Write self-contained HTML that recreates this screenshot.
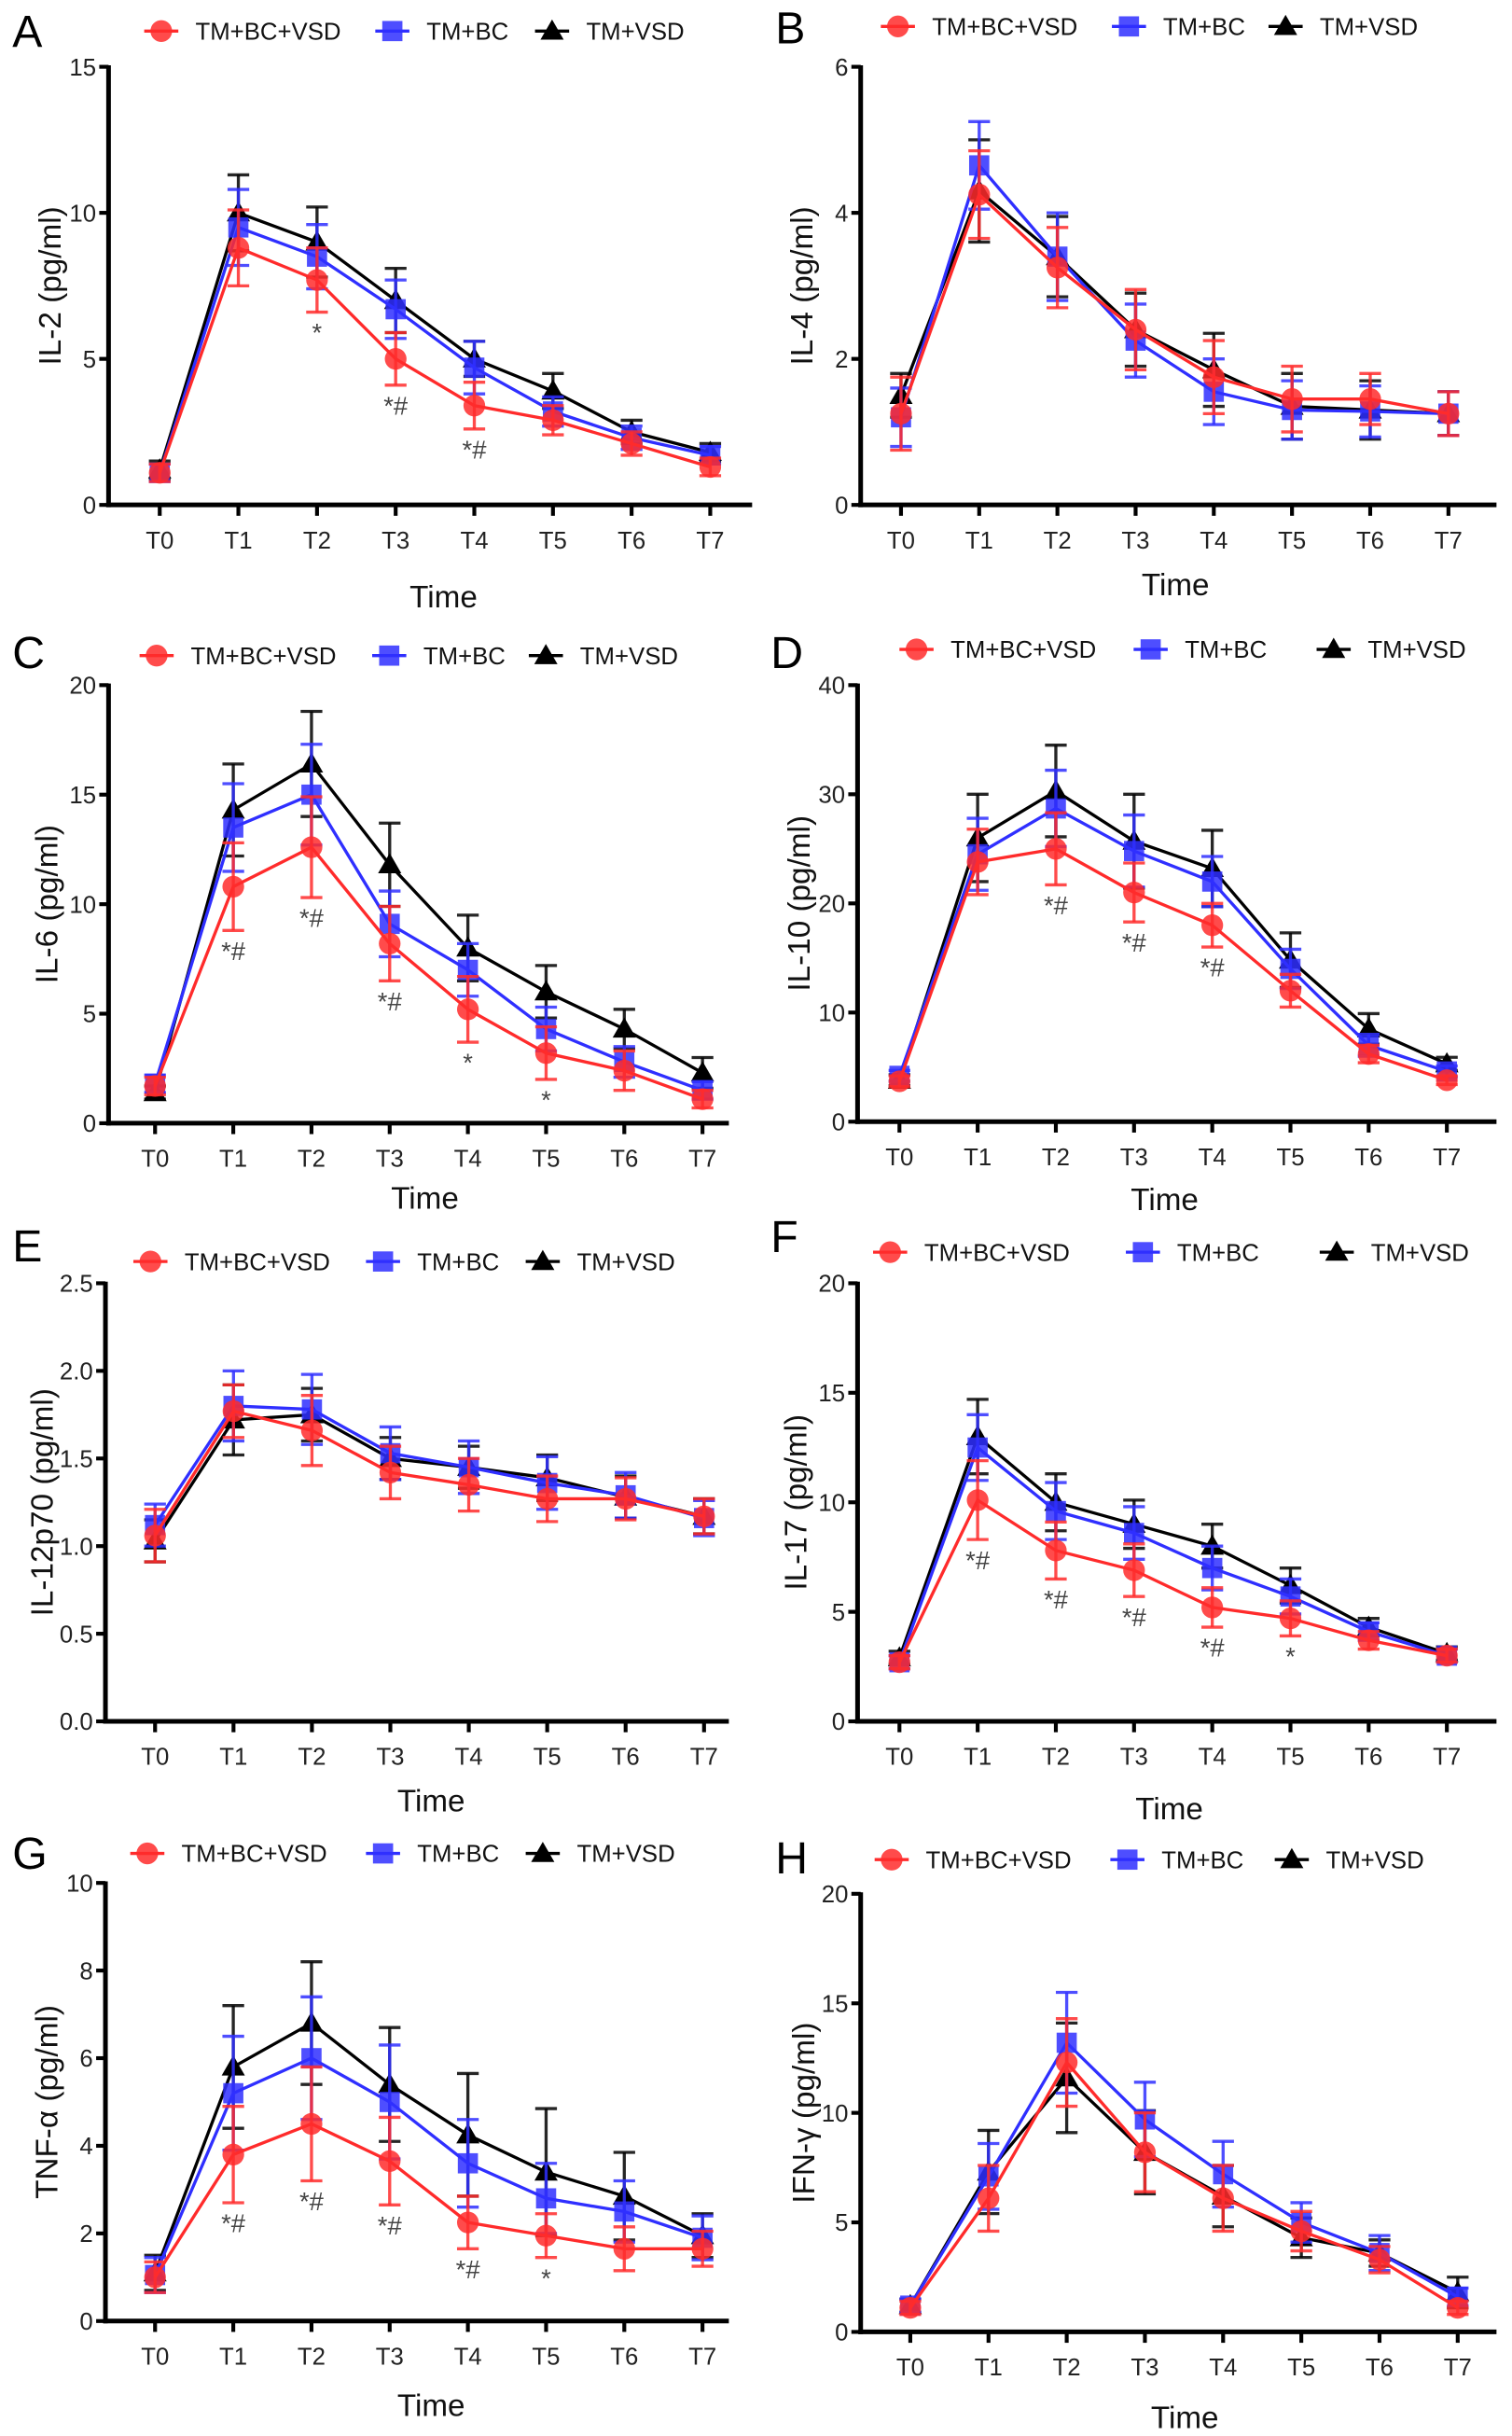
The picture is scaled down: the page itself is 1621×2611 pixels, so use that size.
<!DOCTYPE html>
<html><head><meta charset="utf-8">
<style>
html,body{margin:0;padding:0;background:#fff;}
svg{display:block;}
text{font-family:"Liberation Sans",Arial,sans-serif;}
</style></head>
<body>
<svg id="fig" width="1621" height="2611" viewBox="0 0 975 1568" preserveAspectRatio="none" xmlns="http://www.w3.org/2000/svg"></svg>
<script>
const categories = ["T0","T1","T2","T3","T4","T5","T6","T7"];
const seriesNames = ["TM+BC+VSD","TM+BC","TM+VSD"];

const aRed=[1.1,8.8,7.7,5.0,3.4,2.9,2.1,1.3], aRedE=[0.3,1.3,1.1,0.9,0.8,0.5,0.4,0.3];
const aBlue=[1.1,9.5,8.5,6.7,4.7,3.2,2.3,1.7], aBlueE=[0.3,1.3,1.1,1.0,0.9,0.5,0.4,0.3];
const aBlack=[1.2,10.0,9.0,7.0,5.0,3.9,2.5,1.8], aBlackE=[0.3,1.3,1.2,1.1,0.6,0.6,0.4,0.3];
const aTicks=[0,5,10,15], aMarks=["","","*","*#","*#","","",""];

const bRed=[1.25,4.25,3.25,2.4,1.75,1.45,1.45,1.25], bRedE=[0.5,0.6,0.55,0.55,0.5,0.45,0.35,0.3];
const bBlue=[1.2,4.65,3.4,2.25,1.55,1.3,1.28,1.25], bBlueE=[0.4,0.6,0.6,0.5,0.45,0.4,0.35,0.3];
const bBlack=[1.5,4.3,3.4,2.4,1.85,1.35,1.3,1.25], bBlackE=[0.3,0.7,0.55,0.5,0.5,0.45,0.4,0.3];
const bTicks=[0,2,4,6], bMarks=["","","","","","","",""];

const cRed=[1.7,10.8,12.6,8.2,5.2,3.2,2.4,1.1], cRedE=[0.4,2,2.3,1.7,1.5,1.2,0.9,0.4];
const cBlue=[1.8,13.5,15.0,9.1,7.0,4.3,2.8,1.5], cBlueE=[0.4,2,2.3,1.5,1.2,1,0.7,0.4];
const cBlack=[1.4,14.3,16.4,11.8,8.0,6.0,4.3,2.3], cBlackE=[0.3,2.1,2.4,1.9,1.5,1.2,0.9,0.7];
const cTicks=[0,5,10,15,20], cMarks=["","*#","*#","*#","*","*","",""];

const dRed=[3.7,23.8,25.0,21.0,18.0,12.0,6.2,3.8], dRedE=[0.5,3,3.3,2.7,2,1.5,0.8,0.4];
const dBlue=[4.2,24.5,28.7,24.8,22.0,14.0,7.0,4.6], dBlueE=[0.5,3.3,3.5,3.3,2.3,1.8,1,0.5];
const dBlack=[3.8,26.0,30.3,25.7,23.2,14.8,8.5,5.3], dBlackE=[0.5,4,4.2,4.3,3.5,2.5,1.4,0.6];
const dTicks=[0,10,20,30,40], dMarks=["","","*#","*#","*#","","",""];

const eRed=[1.06,1.77,1.66,1.42,1.35,1.27,1.27,1.17], eRedE=[0.15,0.15,0.2,0.15,0.15,0.13,0.12,0.1];
const eBlue=[1.12,1.80,1.78,1.53,1.45,1.36,1.29,1.16], eBlueE=[0.12,0.2,0.2,0.15,0.15,0.15,0.13,0.1];
const eBlack=[1.03,1.72,1.75,1.50,1.45,1.39,1.28,1.17], eBlackE=[0.12,0.2,0.15,0.12,0.12,0.13,0.12,0.1];
const eTicks=[0,0.5,1.0,1.5,2.0,2.5], eMarks=["","","","","","","",""];

const fRed=[2.7,10.1,7.8,6.9,5.2,4.7,3.7,3.0], fRedE=[0.3,1.8,1.3,1.2,0.9,0.8,0.4,0.3];
const fBlue=[2.7,12.5,9.6,8.6,7.0,5.7,4.1,3.0], fBlueE=[0.3,1.5,1.3,1.2,1.0,0.8,0.4,0.3];
const fBlack=[2.9,13.0,10.0,9.0,8.0,6.2,4.3,3.1], fBlackE=[0.3,1.7,1.3,1.1,1.0,0.8,0.4,0.3];
const fTicks=[0,5,10,15,20], fMarks=["","*#","*#","*#","*#","*","",""];

const gRed=[1.0,3.8,4.5,3.65,2.25,1.95,1.65,1.65], gRedE=[0.35,1.1,1.3,1.0,0.6,0.5,0.5,0.4];
const gBlue=[1.05,5.2,6.0,5.0,3.6,2.8,2.5,1.9], gBlueE=[0.4,1.3,1.4,1.3,1.0,0.8,0.7,0.5];
const gBlack=[1.1,5.8,6.8,5.4,4.25,3.4,2.85,1.95], gBlackE=[0.4,1.4,1.4,1.3,1.4,1.45,1.0,0.5];
const gTicks=[0,2,4,6,8,10], gMarks=["","*#","*#","*#","*#","*","",""];

const hRed=[1.1,6.1,12.3,8.2,6.1,4.6,3.3,1.1], hRedE=[0.3,1.5,2,1.8,1.5,0.9,0.6,0.3];
const hBlue=[1.2,7.1,13.2,9.7,7.2,5.0,3.6,1.6], hBlueE=[0.3,1.5,2.3,1.7,1.5,0.9,0.8,0.4];
const hBlack=[1.2,7.3,11.6,8.2,6.2,4.3,3.6,1.8], hBlackE=[0.3,1.9,2.5,1.9,1.4,0.9,0.6,0.7];
const hTicks=[0,5,10,15,20], hMarks=["","","","","","","",""];

const NS="http://www.w3.org/2000/svg";
const svg=document.getElementById('fig');
function mk(tag,attrs,parent){const e=document.createElementNS(NS,tag);for(const k in attrs)e.setAttribute(k,attrs[k]);(parent||svg).appendChild(e);return e;}

const panels=[
 {id:"a",letter:"A",lx:8,ly:30,ax:70,top:43,bot:325,xend:485,t0:103,t7:458,ticks:aTicks,dec:0,ylab:"IL-2 (pg/ml)",ylx:32,tx:286,ty:391,legY:20,leg:[104,253,356],serif:false,red:aRed,redE:aRedE,blue:aBlue,blueE:aBlueE,black:aBlack,blackE:aBlackE,marks:aMarks},
 {id:"b",letter:"B",lx:500,ly:28,ax:555,top:43,bot:325,xend:965,t0:581,t7:934,ticks:bTicks,dec:0,ylab:"IL-4 (pg/ml)",ylx:517,tx:758,ty:383,legY:17,leg:[579,728,829],serif:true,red:bRed,redE:bRedE,blue:bBlue,blueE:bBlueE,black:bBlack,blackE:bBlackE,marks:bMarks},
 {id:"c",letter:"C",lx:8,ly:430,ax:70,top:441,bot:723,xend:470,t0:100,t7:453,ticks:cTicks,dec:0,ylab:"IL-6 (pg/ml)",ylx:30,tx:274,ty:778,legY:422,leg:[101,251,352],serif:false,red:cRed,redE:cRedE,blue:cBlue,blueE:cBlueE,black:cBlack,blackE:cBlackE,marks:cMarks},
 {id:"d",letter:"D",lx:497,ly:430,ax:553,top:441,bot:722,xend:965,t0:580,t7:933,ticks:dTicks,dec:0,ylab:"IL-10 (pg/ml)",ylx:515,tx:751,ty:779,legY:418,leg:[591,742,860],serif:false,red:dRed,redE:dRedE,blue:dBlue,blueE:dBlueE,black:dBlack,blackE:dBlackE,marks:dMarks},
 {id:"e",letter:"E",lx:8,ly:812,ax:68,top:826,bot:1108,xend:470,t0:100,t7:454,ticks:eTicks,dec:1,ylab:"IL-12p70 (pg/ml)",ylx:27,tx:278,ty:1166,legY:812,leg:[97,247,350],serif:false,red:eRed,redE:eRedE,blue:eBlue,blueE:eBlueE,black:eBlack,blackE:eBlackE,marks:eMarks},
 {id:"f",letter:"F",lx:497,ly:806,ax:553,top:826,bot:1108,xend:965,t0:580,t7:933,ticks:fTicks,dec:0,ylab:"IL-17 (pg/ml)",ylx:513,tx:754,ty:1171,legY:806,leg:[574,737,862],serif:false,red:fRed,redE:fRedE,blue:fBlue,blueE:fBlueE,black:fBlack,blackE:fBlackE,marks:fMarks},
 {id:"g",letter:"G",lx:8,ly:1203,ax:68,top:1212,bot:1494,xend:470,t0:100,t7:453,ticks:gTicks,dec:0,ylab:"TNF-α (pg/ml)",ylx:30,tx:278,ty:1555,legY:1193,leg:[95,247,350],serif:false,red:gRed,redE:gRedE,blue:gBlue,blueE:gBlueE,black:gBlack,blackE:gBlackE,marks:gMarks},
 {id:"h",letter:"H",lx:500,ly:1206,ax:555,top:1219,bot:1501,xend:965,t0:587,t7:940,ticks:hTicks,dec:0,ylab:"IFN-γ (pg/ml)",ylx:518,tx:764,ty:1563,legY:1197,leg:[575,727,833],serif:false,red:hRed,redE:hRedE,blue:hBlue,blueE:hBlueE,black:hBlack,blackE:hBlackE,marks:hMarks}
];
const RED="#ff2b2b",BLUE="#2f2fff",BLACK="#000";

function marker(g,type,x,y,color,name){
  let m;
  if(type==="circle") m=mk('circle',{cx:x,cy:y,r:7,fill:color,'fill-opacity':0.85},g);
  else if(type==="square") m=mk('rect',{x:x-6.5,y:y-6.5,width:13,height:13,fill:color,'fill-opacity':0.85},g);
  else m=mk('polygon',{points:`${x},${y-7.5} ${x-7.5},${y+5.5} ${x+7.5},${y+5.5}`,fill:color},g);
  
  
  return m;
}

panels.forEach(p=>{
  const g=mk('g',{});
  
  
  const ymax=p.ticks[p.ticks.length-1];
  const ys=v=>p.bot-(v/ymax)*(p.bot-p.top);
  const xs=i=>p.t0+i*(p.t7-p.t0)/(categories.length-1);
  const lt=mk('text',{x:p.lx,y:p.ly,'font-size':29},g);lt.textContent=p.letter;
  
  
  const types=["circle","square","triangle"],cols=[RED,BLUE,BLACK];
  seriesNames.forEach((n,k)=>{
    const lg=mk('g',{},g);
    
    
    const x=p.leg[k];
    mk('line',{x1:x-11,x2:x+11,y1:p.legY,y2:p.legY,stroke:cols[k],'stroke-width':2},lg);
    marker(lg,types[k],x,p.legY,cols[k],'legend-marker');
    const t=mk('text',{x:x+22,y:p.legY+5.5,'font-size':15.5,fill:'#111'},lg);t.textContent=n;
  });
  const ya=mk('line',{x1:p.ax,x2:p.ax,y1:p.top-1,y2:p.bot+1.5,stroke:'#000','stroke-width':3},g);
  
  
  const xa=mk('line',{x1:p.ax-1.5,x2:p.xend,y1:p.bot,y2:p.bot,stroke:'#000','stroke-width':3},g);
  
  
  p.ticks.forEach(v=>{
    const y=ys(v);
    mk('line',{x1:p.ax-6,x2:p.ax,y1:y,y2:y,stroke:'#000','stroke-width':2.5},g);
    const t=mk('text',{x:p.ax-8,y:y+5.5,'font-size':15.5,'text-anchor':'end',fill:'#222'},g);
    t.textContent=p.dec?v.toFixed(1):String(v);
    
    
  });
  categories.forEach((c,i)=>{
    const x=xs(i);
    mk('line',{x1:x,x2:x,y1:p.bot,y2:p.bot+7,stroke:'#000','stroke-width':2.5},g);
    const t=mk('text',{x:x,y:p.bot+28,'font-size':15.5,'text-anchor':'middle',fill:'#222'},g);
    if(p.serif) t.setAttribute('font-family','"Liberation Serif",serif');
    t.textContent=c;
    
    
  });
  const tt=mk('text',{x:p.tx,y:p.ty,'font-size':20,'text-anchor':'middle',fill:'#111'},g);tt.textContent="Time";
  
  
  const yc=(p.top+p.bot)/2;
  const yt=mk('text',{x:p.ylx,y:yc,'font-size':20,'text-anchor':'middle',fill:'#111',transform:`rotate(-90 ${p.ylx} ${yc})`,dy:7},g);
  yt.textContent=p.ylab;
  
  
  const ser=[[p.black,p.blackE,BLACK,"triangle","series-tm-vsd"],[p.blue,p.blueE,BLUE,"square","series-tm-bc"],[p.red,p.redE,RED,"circle","series-tm-bc-vsd"]];
  ser.forEach(([vals,errs,col,type,name])=>{
    const sg=mk('g',{},g);
    
    
    vals.forEach((v,i)=>{
      const x=xs(i),y1=ys(v+errs[i]),y2=ys(v-errs[i]);
      mk('line',{x1:x,x2:x,y1:y1,y2:y2,stroke:col,'stroke-width':2,'stroke-opacity':0.85},sg);
      mk('line',{x1:x-7,x2:x+7,y1:y1,y2:y1,stroke:col,'stroke-width':2,'stroke-opacity':0.85},sg);
      mk('line',{x1:x-7,x2:x+7,y1:y2,y2:y2,stroke:col,'stroke-width':2,'stroke-opacity':0.85},sg);
    });
    const pts=vals.map((v,i)=>xs(i)+","+ys(v)).join(" ");
    const pl=mk('polyline',{points:pts,fill:'none',stroke:col,'stroke-width':2},sg);
    
    
    vals.forEach((v,i)=>marker(sg,type,xs(i),ys(v),col,'data-point'));
  });
  p.marks.forEach((m,i)=>{
    if(!m) return;
    const y=ys(p.red[i]-p.redE[i])+19;
    const t=mk('text',{x:xs(i),y:y,'font-size':16.5,'text-anchor':'middle',fill:'#444'},g);
    t.textContent=m;
    
    
  });
});
</script>
</body></html>
